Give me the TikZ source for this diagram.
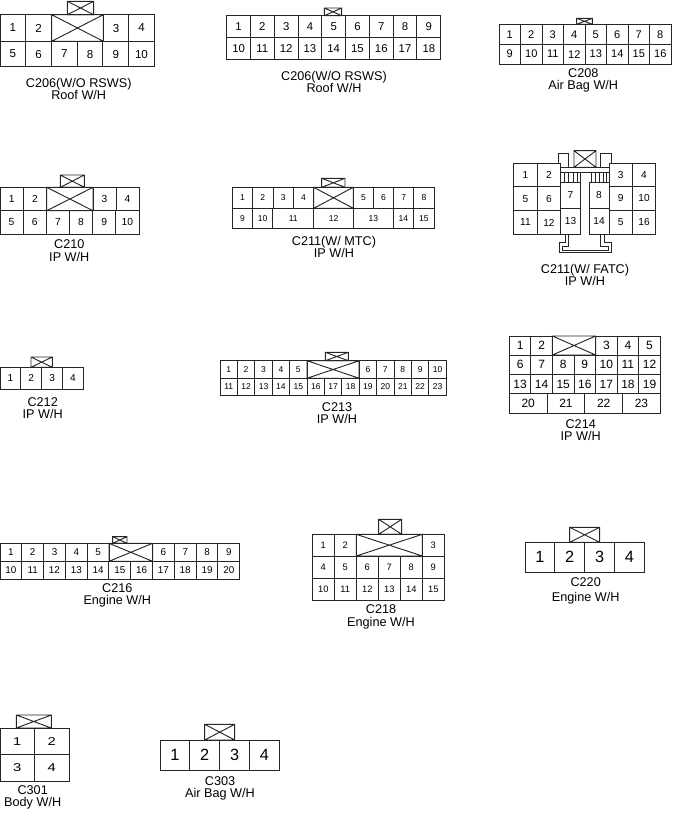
\documentclass[tikz,border=0pt]{standalone}
\usepackage{fontspec}
\setmainfont{Liberation Sans}
\newfontfamily\widefont[FakeStretch=1.3]{Liberation Sans}
\tikzset{wire/.style={line width=0.7pt,color=black!85},
  pinlabel/.style={inner sep=0pt,font=\pinfont},
  caption/.style={inner sep=0pt,align=center,font=\fontsize{9.5}{9.3}\selectfont}}
\newcommand{\pinsize}[1]{\def\pinfont{\fontsize{#1}{#1}\selectfont}}
% one cavity: name, corners, text
\newcommand{\cavity}[6]{%
  \draw[wire] (#2,#3) rectangle (#4,#5);
  \node[pinlabel] (#1) at ({((#2)+(#4))/2},{((#3)+(#5))/2}) {#6};}
% a row of cavities: prefix, left, width, top, bottom, numbers
\newcommand{\pinrow}[6]{%
  \foreach \n [count=\i from 0] in {#6} {\cavity{#1\n}{#2+\i*#3}{#4}{#2+\i*#3+#3}{#5}{\n}}}
% crossed box
\newcommand{\lockbox}[4]{%
  \draw[wire] (#1,#2) rectangle (#3,#4) (#1,#2) -- (#3,#4) (#1,#4) -- (#3,#2);}
\begin{document}
\begin{tikzpicture}[x=0.75pt,y=0.75pt,yscale=-1,xscale=1]
\useasboundingbox (0,0) rectangle (700,819);
%C206 left
\pinsize{8.7}
\lockbox{67.3}{1.3}{93.7}{14.7}
\lockbox{51.7}{14.7}{103.3}{41.3}
\pinrow{pa}{0}{25.8}{14.7}{41.3}{1,2}
\pinrow{pa}{103.3}{25.5}{14.7}{41.3}{3,4}
\pinrow{pa}{0}{25.72}{41.3}{66.7}{5,6,7,8,9,10}
\node[caption] (capa) at (78.7,89) {C206(W/O RSWS)\\Roof W/H};
%C206 middle
\pinsize{8.5}
\lockbox{324.3}{8}{341.7}{15.7}
\pinrow{pb}{226.7}{23.78}{15.7}{37.7}{1,2,3,4,5,6,7,8,9}
\pinrow{pb}{226.7}{23.78}{37.7}{59.3}{10,11,12,13,14,15,16,17,18}
\node[caption] (capb) at (334,82) {C206(W/O RSWS)\\Roof W/H};
%C208
\pinsize{8.3}
\lockbox{576.7}{18.3}{592.3}{24.3}
\pinrow{pc}{499}{21.5}{24.3}{44.3}{1,2,3,4,5,6,7,8}
\pinrow{pc}{499}{21.5}{44.3}{64}{9,10,11,12,13,14,15,16}
\node[caption] (capc) at (583.3,80.3) {C208\\Air Bag W/H};
%C210
\pinsize{7.7}
\lockbox{60.3}{175}{84.3}{187.3}
\lockbox{46.7}{187.3}{93}{210.7}
\pinrow{pd}{0}{23.35}{187.3}{210.7}{1,2}
\pinrow{pd}{93}{23}{187.3}{210.7}{3,4}
\pinrow{pd}{0}{23.17}{210.7}{234}{5,6,7,8,9,10}
\node[caption] (capd) at (69.3,250.5) {C210\\IP W/H};
%C211 MTC
\pinsize{6.4}
\lockbox{321.7}{178.3}{345}{187.3}
\lockbox{313.7}{187.3}{353.3}{208.3}
\pinrow{pe}{232.3}{20.35}{187.3}{208.3}{1,2,3,4}
\pinrow{pe}{353.3}{20.17}{187.3}{208.3}{5,6,7,8}
\pinrow{pe}{232.3}{20.2}{208.3}{228.3}{9,10}
\cavity{pe11}{272.7}{208.3}{313.7}{228.3}{11}
\cavity{pe12}{313.7}{208.3}{353.3}{228.3}{12}
\cavity{pe13}{353.3}{208.3}{393.3}{228.3}{13}
\pinrow{pe}{393.3}{20.35}{208.3}{228.3}{14,15}
\node[caption] (cape) at (334,247) {C211(W/ MTC)\\IP W/H};
%C211 FATC
\pinsize{7.6}
\draw[wire] (560.7,167.3) rectangle (609,172.7);
\draw[wire] (558,163.7) |- (568.7,153.3) -- (568.7,167.3);
\draw[wire] (600.3,167.3) |- (611.3,153.3) -- (611.3,163.7);
\lockbox{574}{150.7}{596}{167.3}
\foreach \hx in {564.5,568.8,573,577,580.3} {\draw[wire] (\hx,172.7) -- (\hx,182.3);}
\foreach \hx in {591,595,599,603.2,606.8} {\draw[wire] (\hx,172.7) -- (\hx,182.3);}
\pinrow{pf}{513.7}{23.5}{163.7}{186.7}{1,2}
\pinrow{pf}{513.7}{23.5}{186.7}{210.7}{5,6}
\pinrow{pf}{513.7}{23.5}{210.7}{234.3}{11,12}
\pinrow{pf}{609}{23.35}{163.7}{186.7}{3,4}
\pinrow{pf}{609}{23.35}{186.7}{210.2}{9,10}
\cavity{pfr}{609}{210.2}{632.3}{234}{5}
\cavity{pf16}{632.3}{210.2}{655.7}{234}{16}
\cavity{pf7}{560.7}{182.3}{580.3}{208}{7}
\cavity{pf13}{560.7}{208}{580.3}{234.3}{13}
\cavity{pf8}{589}{182.3}{609}{208}{8}
\cavity{pf14}{589}{208}{609}{234.3}{14}
\draw[wire] (565,234.3) |- (559.3,242.7) |- (611.3,252.7) |- (604.7,242.7) -- (604.7,234.3);
\draw[wire] (568.3,234.3) |- (562.3,246) |- (608.3,250) |- (600.7,246) -- (600.7,234.3);
\node[caption] (capf) at (585,275) {C211(W/ FATC)\\IP W/H};
%C212
\pinsize{7.6}
\lockbox{31}{357}{52.3}{367.3}
\pinrow{pg}{0}{20.83}{367.3}{389.3}{1,2,3,4}
\node[caption] (capg) at (42.7,408.2) {C212\\IP W/H};
%C213
\pinsize{6.4}
\lockbox{325.3}{352.3}{348.3}{360.7}
\lockbox{307}{360.7}{359.2}{378.3}
\pinrow{ph}{220}{17.41}{360.7}{378.3}{1,2,3,4,5}
\pinrow{ph}{359.2}{17.43}{360.7}{378.3}{6,7,8,9,10}
\pinrow{ph}{220}{17.41}{378.3}{395.3}{11,12,13,14,15,16,17,18,19,20,21,22,23}
\node[caption] (caph) at (337,413.2) {C213\\IP W/H};
%C214
\pinsize{9}
\lockbox{552.4}{336}{595.6}{355}
\pinrow{pi}{509.3}{21.57}{336}{355}{1,2}
\pinrow{pi}{595.6}{21.57}{336}{355}{3,4,5}
\pinrow{pi}{509.3}{21.57}{355}{374.3}{6,7,8,9,10,11,12}
\pinrow{pi}{509.3}{21.57}{374.3}{393.7}{13,14,15,16,17,18,19}
\pinrow{pi}{509.3}{37.75}{393.7}{413}{20,21,22,23}
\node[caption] (capi) at (580.7,430.3) {C214\\IP W/H};
%C216
\pinsize{7.4}
\lockbox{112.7}{536.7}{127}{543.3}
\lockbox{109}{543.3}{152.6}{561.3}
\pinrow{pj}{0}{21.8}{543.3}{561.3}{1,2,3,4,5}
\pinrow{pj}{152.6}{21.77}{543.3}{561.3}{6,7,8,9}
\pinrow{pj}{0}{21.79}{561.3}{579}{10,11,12,13,14,15,16,17,18,19,20}
\node[caption] (capj) at (117.3,595.5) {C216\\Engine W/H};
%C218
\pinsize{7}
\lockbox{378.7}{519.3}{401.7}{534.3}
\lockbox{356.3}{534.3}{422.3}{556}
\pinrow{pk}{312.3}{22}{534.3}{556}{1,2}
\cavity{pk3}{422.3}{534.3}{444.3}{556}{3}
\pinrow{pk}{312.3}{22}{556}{578.3}{4,5,6,7,8,9}
\pinrow{pk}{312.3}{22}{578.3}{600.7}{10,11,12,13,14,15}
\node[caption] (capk) at (381,617) {C218\\Engine W/H};
%C220
\pinsize{12.2}
\lockbox{569.7}{527.3}{599.7}{542.3}
\pinrow{pl}{525}{29.83}{542.3}{572.3}{1,2,3,4}
\node[caption,font=\fontsize{9.5}{11.2}\selectfont] (capl) at (585.7,590.8) {C220\\Engine W/H};
%C301
\def\pinfont{\widefont\fontsize{8.5}{8.5}\selectfont}
\lockbox{16.3}{715}{51.3}{728}
\pinrow{pm}{0}{34.5}{728}{754.7}{1,2}
\pinrow{pm}{0}{34.5}{754.7}{781}{3,4}
\node[caption] (capm) at (32.7,797.5) {C301\\Body W/H};
%C303
\pinsize{12.2}
\lockbox{204.7}{724.3}{234.7}{740}
\pinrow{pn}{160}{29.83}{740}{770}{1,2,3,4}
\node[caption] (capn) at (220,788.2) {C303\\Air Bag W/H};
\end{tikzpicture}
\end{document}
